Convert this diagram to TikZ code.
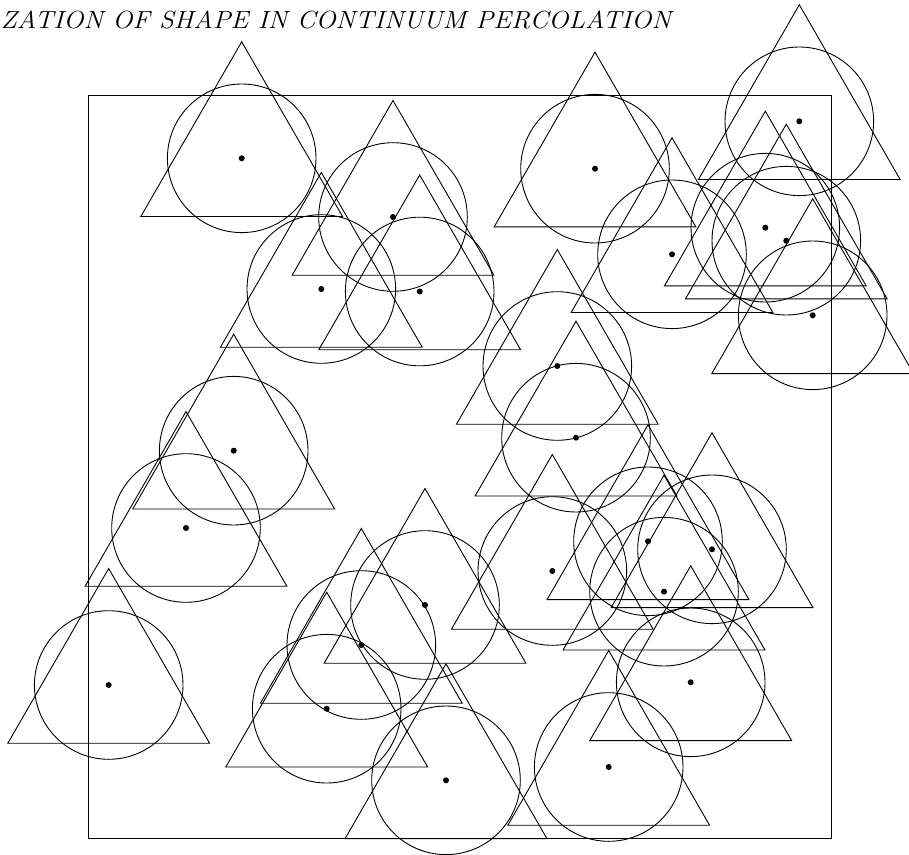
\documentclass[tikz,border=0pt]{standalone}
\usepackage{tikz}
\usetikzlibrary{shapes.geometric}
\tikzset{
  disk/.style ={circle, draw=black, line width=0.45pt, minimum size=74.3pt,
                inner sep=0pt, outer sep=0pt},
  tri/.style  ={regular polygon, regular polygon sides=3, draw=black, line width=0.45pt,
                minimum size=116.5pt, inner sep=0pt, outer sep=0pt},
  dot/.style  ={circle, fill=black, minimum size=3pt, inner sep=0pt},
  frame/.style={draw=black, line width=0.5pt},
  title/.style={font=\fontsize{12.4}{14}\selectfont\itshape, inner sep=0pt, anchor=base west},
}
% one grain: disk and triangle round the same centre, with its centre point
\newcommand{\grain}[3]{%
  \node[disk] (#1) at (#2,#3) {};
  \node[tri] at (#1) {};
  \node[dot] at (#1) {};
}

\begin{document}
\begin{tikzpicture}[x=0.5pt, y=-0.5pt]
  \useasboundingbox (0,0) rectangle (909,855);
  \node[title] (head) at (0.5,28.8) {\scalebox{1.082}[1]{ZATION OF SHAPE IN CONTINUUM PERCOLATION}};
  \draw[frame] (88,95.3) rectangle (831.7,838.6);
  % top row
  \grain{g1}{241.7}{158.3}
  \grain{g2}{393}{217}
  \grain{g3}{321.3}{289}
  \grain{g4}{419.7}{291.5}
  \grain{g5}{595}{168.7}
  \grain{g6}{672}{254.3}
  \grain{g7}{799.3}{121.3}
  \grain{g8}{765.3}{227.7}
  \grain{g9}{786.3}{240.7}
  \grain{g10}{812.7}{315.3}
  % middle
  \grain{g11}{557.3}{366}
  \grain{g12}{576}{437.7}
  \grain{g13}{233.7}{450.7}
  \grain{g14}{186}{528}
  \grain{g15}{552.3}{571}
  \grain{g16}{648}{541.3}
  \grain{g17}{712}{549.3}
  \grain{g18}{664}{591.7}
  % bottom
  \grain{g19}{425}{605}
  \grain{g20}{361.3}{645}
  \grain{g21}{326.7}{708.7}
  \grain{g22}{108.7}{685}
  \grain{g23}{690.7}{682.3}
  \grain{g24}{446}{780.3}
  \grain{g25}{608.7}{767}
\end{tikzpicture}
\end{document}
